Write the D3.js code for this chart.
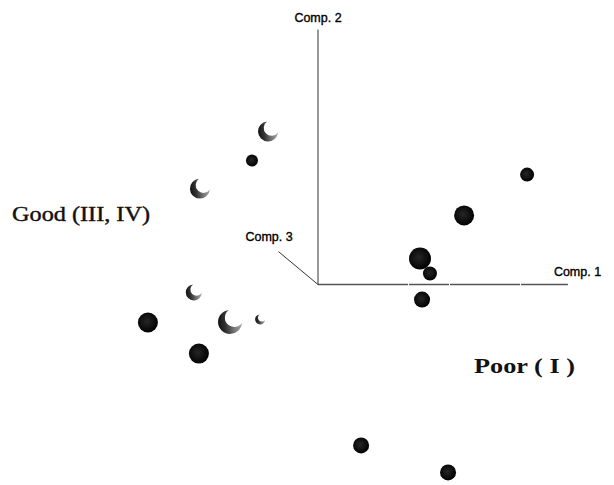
<!DOCTYPE html>
<html>
<head>
<meta charset="utf-8">
<script src="https://cdn.jsdelivr.net/npm/d3@7"></script>
<style>
  html, body { margin: 0; padding: 0; background: #fff; }
  svg { display: block; }
</style>
</head>
<body>
<svg id="chart" width="614" height="485"></svg>
<script>
// Principal-component scores, already projected onto the page plane.
// projX runs along Comp. 1, projY along Comp. 2, depth is Comp. 3 (drawn as marker size).
const poorX  = [8.2, 5.73, 4.0, 4.39, 4.08, -6.67, -4.67, -2.59, 1.69, 5.1];
const poorY  = [4.31, 2.71, 1.02, 0.43, -0.59, -1.49, -2.71, 4.86, -6.31, -7.37];
const poorZ  = [2, 5, 6, 2, 3, 5, 5, 1, 3, 3];

const goodX  = [-1.96, -4.63, -4.87, -3.45, -2.27];
const goodY  = [6.0, 3.76, -0.31, -1.47, -1.37];
const goodZ  = [5, 5, 3, 7, 0];

const axisNames = ["Comp. 1", "Comp. 2", "Comp. 3"];
const groupNames = ["Good (III, IV)", "Poor ( I )"];

const svg = d3.select("#chart");

const x = d3.scaleLinear().domain([-7, 9]).range([139.5, 547.5]);
const y = d3.scaleLinear().domain([-8, 11]).range([488.5, 4]);
const r = d3.scaleLinear().domain([0, 7]).range([5, 12]);

const defs = svg.append("defs");
const sphere = defs.append("radialGradient").attr("id", "sphere")
  .attr("cx", "0.45").attr("cy", "0.45").attr("r", "0.6");
sphere.append("stop").attr("offset", "0").attr("stop-color", "#262626");
sphere.append("stop").attr("offset", "0.7").attr("stop-color", "#0a0a0a");
sphere.append("stop").attr("offset", "1").attr("stop-color", "#000");

const moon = defs.append("linearGradient").attr("id", "moon")
  .attr("x1", "0").attr("y1", "0.55").attr("x2", "1").attr("y2", "0.45");
moon.append("stop").attr("offset", "0").attr("stop-color", "#111");
moon.append("stop").attr("offset", "0.3").attr("stop-color", "#333");
moon.append("stop").attr("offset", "0.65").attr("stop-color", "#777");
moon.append("stop").attr("offset", "1").attr("stop-color", "#aaa");

// Axes from the origin
const ox = x(0), oy = y(0);
const ax = svg.append("g").attr("fill", "none");
ax.append("line").attr("x1", ox).attr("y1", oy).attr("x2", x(9.8)).attr("y2", oy)
  .attr("stroke", "#555").attr("stroke-width", 1.3).attr("stroke-dasharray", "90,1,40,1,70,1");
ax.append("line").attr("x1", ox).attr("y1", oy).attr("x2", ox).attr("y2", y(10.0))
  .attr("stroke", "#333").attr("stroke-width", 1);
ax.append("line").attr("x1", ox).attr("y1", oy).attr("x2", x(-1.55)).attr("y2", y(1.29))
  .attr("stroke", "#333").attr("stroke-width", 1);

const lab = svg.append("g").attr("font-family", "Liberation Sans, Arial, sans-serif")
  .attr("font-size", 12.5).attr("fill", "#000")
  .attr("stroke", "#000").attr("stroke-width", 0.35);
lab.append("text").attr("x", x(9.8) - 14).attr("y", oy - 9).text(axisNames[0]);
lab.append("text").attr("x", ox).attr("y", y(10.0) - 8).attr("text-anchor", "middle").text(axisNames[1]);
lab.append("text").attr("x", x(-1.55) - 33).attr("y", y(1.29) - 11).text(axisNames[2]);

// Crescent marker: disc with an offset bite toward the upper right
function crescent(R) {
  const ux = Math.SQRT1_2, uy = -Math.SQRT1_2;
  const d = 0.5 * R, r1 = 0.78 * R;
  const a = (R * R - r1 * r1 + d * d) / (2 * d);
  const phi = Math.acos(a / R);
  const psi = Math.acos((a - d) / r1);
  const tu = Math.atan2(uy, ux);
  const p = d3.path();
  p.arc(0, 0, R, tu + phi, tu + 2 * Math.PI - phi, false);
  p.arc(d * ux, d * uy, r1, tu - psi, tu + psi, true);
  p.closePath();
  return p.toString();
}

const good = goodX.map((v, i) => ({ x: v, y: goodY[i], z: goodZ[i] }));
svg.append("g").selectAll("path").data(good).join("path")
  .attr("transform", d => `translate(${x(d.x)},${y(d.y)})`)
  .attr("d", d => crescent(r(d.z)))
  .attr("fill", "url(#moon)");

const poor = poorX.map((v, i) => ({ x: v, y: poorY[i], z: poorZ[i] }));
svg.append("g").selectAll("circle").data(poor).join("circle")
  .attr("cx", d => x(d.x)).attr("cy", d => y(d.y)).attr("r", d => r(d.z))
  .attr("fill", "url(#sphere)");

// Group captions
svg.append("text").attr("x", 12).attr("y", 221)
  .attr("font-family", "Liberation Serif, Times New Roman, serif")
  .attr("font-size", 20).attr("textLength", 138).attr("lengthAdjust", "spacingAndGlyphs")
  .attr("fill", "#111").attr("stroke", "#111").attr("stroke-width", 0.4)
  .text(groupNames[0]);
svg.append("text").attr("x", 474).attr("y", 373)
  .attr("font-family", "Liberation Serif, Times New Roman, serif")
  .attr("font-size", 21).attr("font-weight", "bold")
  .attr("textLength", 101).attr("lengthAdjust", "spacingAndGlyphs")
  .attr("fill", "#111").text(groupNames[1]);
</script>
</body>
</html>
